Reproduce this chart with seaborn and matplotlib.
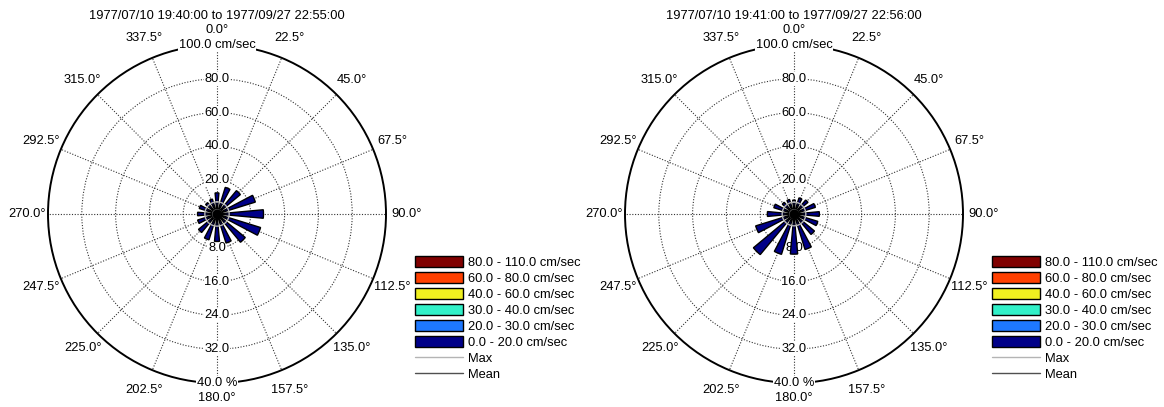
import numpy as np
import matplotlib
matplotlib.use("Agg")
import matplotlib.pyplot as plt
from matplotlib.patches import Patch
from matplotlib.lines import Line2D
import seaborn as sns

sns.set_theme(style="white")
plt.rcParams["font.family"] = ["Liberation Sans", "DejaVu Sans"]
plt.rcParams["font.size"] = 9.3
plt.rcParams["text.color"] = "black"

# Direction sectors (degrees clockwise from north)
directions = [0.0, 22.5, 45.0, 67.5, 90.0, 112.5, 135.0, 157.5,
              180.0, 202.5, 225.0, 247.5, 270.0, 292.5, 315.0, 337.5]

# Percent of records per sector, speed class 0-20 cm/sec
rose_a_pct = [5.0, 6.6, 7.2, 9.5, 11.0, 10.8, 8.7, 7.2,
              6.5, 6.4, 5.7, 4.8, 4.6, 4.4, 3.5, 3.7]
rose_b_pct = [3.3, 4.0, 4.3, 5.3, 6.0, 5.9, 6.3, 8.8,
              9.5, 10.0, 12.5, 9.5, 6.3, 5.0, 3.6, 3.6]

titles = ["1977/07/10 19:40:00 to 1977/09/27 22:55:00",
          "1977/07/10 19:41:00 to 1977/09/27 22:56:00"]

# Max / mean speed (cm/sec)
max_speed = [7.2, 7.0]
mean_speed = [2.6, 2.6]

speed_classes = ["80.0 - 110.0 cm/sec", "60.0 - 80.0 cm/sec", "40.0 - 60.0 cm/sec",
                 "30.0 - 40.0 cm/sec", "20.0 - 30.0 cm/sec", "0.0 - 20.0 cm/sec"]
class_colors = ["#800000", "#ff4000", "#f0f020", "#30f0c8", "#1e78ff", "#000088"]

speed_rings = [20.0, 40.0, 60.0, 80.0]
speed_max = 100.0
pct_rings = [8.0, 16.0, 24.0, 32.0]
pct_max = 40.0

FS = 9.3
W, H, DPI = 1164, 407, 100
fig = plt.figure(figsize=(W / DPI, H / DPI), dpi=DPI)

rad_px = 169
centers = [(217, 214), (794, 214)]

for k, (cx, cy) in enumerate(centers):
    ax = fig.add_axes([(cx - rad_px) / W, (H - cy - rad_px) / H,
                       2 * rad_px / W, 2 * rad_px / H], projection="polar")
    ax.set_theta_zero_location("N")
    ax.set_theta_direction(-1)
    ax.set_ylim(0, pct_max)
    ax.set_facecolor("white")

    # grid
    ax.set_yticks(pct_rings)
    ax.set_yticklabels([])
    ax.set_xticks(np.deg2rad(directions))
    ax.set_xticklabels([])
    ax.grid(True, linestyle=(0, (1, 1.5)), color="#333333", linewidth=0.8)
    ax.set_axisbelow(True)
    ax.spines["polar"].set_linewidth(1.4)
    ax.spines["polar"].set_color("black")

    vals = rose_a_pct if k == 0 else rose_b_pct
    ax.bar(np.deg2rad(directions), vals, width=np.deg2rad(10.5),
           color=class_colors[-1], edgecolor="black", linewidth=1.0, zorder=3)

    th = np.linspace(0, 2 * np.pi, 361)
    ax.plot(th, np.full_like(th, max_speed[k] * pct_max / speed_max),
            color="#b4b4b4", lw=1.0, zorder=4)
    ax.plot(th, np.full_like(th, mean_speed[k] * pct_max / speed_max),
            color="#505050", lw=1.0, zorder=4)
    ax.plot([0], [0], "o", color="black", ms=6, zorder=5)

    # speed labels upward, percent labels downward
    box = dict(facecolor="white", edgecolor="none", pad=0.6)
    for s in speed_rings:
        ax.text(0, s * pct_max / speed_max, f"{s:.1f}", ha="center", va="center",
                fontsize=FS, bbox=box, zorder=2.5)
    ax.text(0, pct_max, f"{speed_max:.1f} cm/sec", ha="center", va="center",
            fontsize=FS, bbox=box, zorder=6, clip_on=False)
    for p in pct_rings:
        ax.text(np.pi, p, f"{p:.1f}", ha="center", va="center",
                fontsize=FS, bbox=box, zorder=2.5)
    ax.text(np.pi, pct_max, f"{pct_max:.1f} %", ha="center", va="center",
            fontsize=FS, bbox=box, zorder=6, clip_on=False)

    # direction labels
    for d in directions:
        r_px = 184 if d in (0.0, 180.0) else 190
        ax.text(np.deg2rad(d), pct_max * r_px / rad_px, f"{d:.1f}\u00b0",
                ha="center", va="center", fontsize=FS, clip_on=False)

    fig.text(cx / W, 1 - 16 / H, titles[k], ha="center", va="center", fontsize=FS)

    handles = [Patch(facecolor=c, edgecolor="black", linewidth=1.0) for c in class_colors]
    handles += [Line2D([], [], color="#b4b4b4", lw=1.0),
                Line2D([], [], color="#505050", lw=1.0)]
    labels = speed_classes + ["Max", "Mean"]
    fig.legend(handles, labels, loc="upper left",
               bbox_to_anchor=((cx + 198) / W, 1 - 256 / H),
               frameon=False, fontsize=FS, handlelength=3.7, handleheight=0.93,
               labelspacing=0.24, handletextpad=0.4, borderpad=0, borderaxespad=0)

fig.savefig("out.png", dpi=DPI, facecolor="white")
